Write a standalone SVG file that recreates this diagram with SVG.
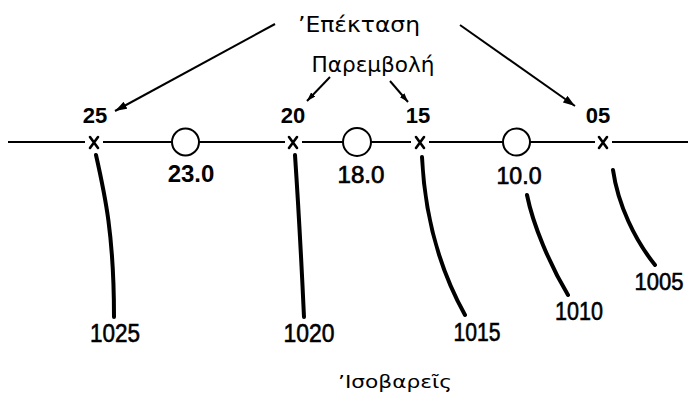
<svg xmlns="http://www.w3.org/2000/svg" width="691" height="397" viewBox="0 0 691 397">
  <style>
    .axis { stroke: #000; stroke-width: 2; fill: none; }
    .stn { stroke: #000; stroke-width: 2; fill: #fff; }
    .mark { stroke: #000; stroke-width: 2.6; stroke-linecap: round; }
    .iso { stroke: #000; stroke-width: 4; fill: none; stroke-linecap: round; }
    .arr { stroke: #000; stroke-width: 2; fill: none; }
    .lbl { font-family: "Liberation Sans", Arial, sans-serif; fill: #000; text-anchor: middle; }
    .top { font-size: 22px; font-weight: bold; }
    .val { font-size: 24px; font-weight: bold; }
    .med { font-size: 24px; font-weight: normal; stroke: #000; stroke-width: 0.7; }
    .isoT { font-size: 26px; stroke: #000; stroke-width: 0.6; }
    .grk { font-family: "DejaVu Sans", "Noto Sans", sans-serif; fill: #000; text-anchor: middle; }
  </style>
  <defs>
    <marker id="headL" viewBox="0 0 12 8" refX="12" refY="4" markerWidth="12" markerHeight="8" markerUnits="userSpaceOnUse" orient="auto">
      <path d="M0,0 L12,4 L0,8 Z" fill="#000"/>
    </marker>
    <marker id="headS" viewBox="0 0 9 6" refX="9" refY="3" markerWidth="9" markerHeight="6" markerUnits="userSpaceOnUse" orient="auto">
      <path d="M0,0 L9,3 L0,6 Z" fill="#000"/>
    </marker>
  </defs>

  <rect width="691" height="397" fill="#fff"/>

  <!-- section line -->
  <g id="axis">
    <path class="axis" d="M8,142 H85 M103,142 H172 M199,142 H285 M302,142 H343 M371,142 H411 M429,142 H503 M530,142 H595 M612,142 H688"/>
  </g>

  <!-- grid points marked x -->
  <g id="p25"><path class="mark" d="M90,137 L98,148 M98,137 L90,148"/><text class="lbl top" x="95" y="123">25</text></g>
  <g id="p20"><path class="mark" d="M289,137 L297,148 M297,137 L289,148"/><text class="lbl top" x="293" y="123">20</text></g>
  <g id="p15"><path class="mark" d="M416,137 L424,148 M424,137 L416,148"/><text class="lbl top" x="418" y="123">15</text></g>
  <g id="p05"><path class="mark" d="M599,137 L607,148 M607,137 L599,148"/><text class="lbl top" x="598" y="123">05</text></g>

  <!-- stations -->
  <g id="s230"><circle class="stn" cx="185.5" cy="142" r="13.5"/><text class="lbl val" x="191" y="182">23.0</text></g>
  <g id="s180"><circle class="stn" cx="357" cy="142" r="14"/><text class="lbl med" x="361" y="183" textLength="47" lengthAdjust="spacingAndGlyphs">18.0</text></g>
  <g id="s100"><circle class="stn" cx="516.5" cy="142" r="13.5"/><text class="lbl med" x="519" y="184" textLength="45" lengthAdjust="spacingAndGlyphs">10.0</text></g>

  <!-- isobars -->
  <g id="i1025"><path class="iso" d="M96,155 C105,195 114,235 114,317"/><text class="lbl isoT" x="115" y="342" textLength="50" lengthAdjust="spacingAndGlyphs">1025</text></g>
  <g id="i1020"><path class="iso" d="M295,155 Q300,230 304,317"/><text class="lbl isoT" x="309" y="342" textLength="51" lengthAdjust="spacingAndGlyphs">1020</text></g>
  <g id="i1015"><path class="iso" d="M422,157 C425,220 440,270 465,315"/><text class="lbl isoT" x="477" y="341" textLength="47" lengthAdjust="spacingAndGlyphs">1015</text></g>
  <g id="i1010"><path class="iso" d="M527,195 C533,225 550,265 568,295"/><text class="lbl isoT" x="579" y="320" textLength="48" lengthAdjust="spacingAndGlyphs">1010</text></g>
  <g id="i1005"><path class="iso" d="M613,170 C618,205 635,240 655,265"/><text class="lbl isoT" x="659" y="290" font-size="24" style="font-size:24px" textLength="49" lengthAdjust="spacingAndGlyphs">1005</text></g>

  <!-- headings -->
  <g id="extrap"><text class="grk" x="359" y="32" font-size="22" textLength="122" lengthAdjust="spacingAndGlyphs">’Επέκταση</text></g>
  <g id="interp"><text class="grk" x="373" y="72" font-size="22" textLength="123" lengthAdjust="spacingAndGlyphs">Παρεμβολή</text></g>
  <g id="isobars"><text class="grk" x="395" y="388" font-size="18" textLength="114" lengthAdjust="spacingAndGlyphs">’Ισοβαρεῖς</text></g>

  <!-- pointers -->
  <g id="connectors">
    <path class="arr" d="M275,24 L115,111" marker-end="url(#headL)"/>
    <path class="arr" d="M460,25 L575,106" marker-end="url(#headL)"/>
    <path class="arr" d="M330,77 L307,101" marker-end="url(#headS)"/>
    <path class="arr" d="M390,81 L408,102" marker-end="url(#headS)"/>
  </g>
</svg>
